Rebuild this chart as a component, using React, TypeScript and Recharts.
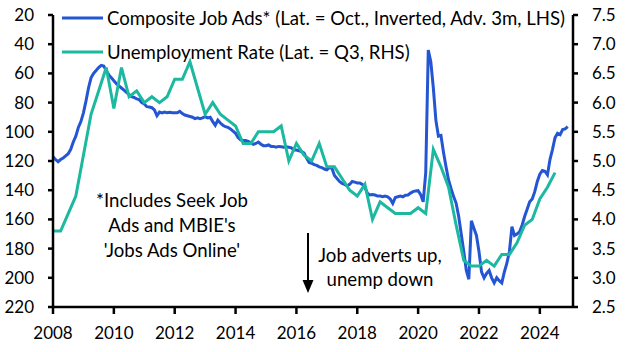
import { ComposedChart, Line, XAxis, YAxis } from 'recharts';

const START_YEAR = 2008;
const YEAR_TICKS = [2008, 2010, 2012, 2014, 2016, 2018, 2020, 2022, 2024];
const LEFT_TICKS = [20, 40, 60, 80, 100, 120, 140, 160, 180, 200, 220];
const RIGHT_TICKS = [2.5, 3, 3.5, 4, 4.5, 5, 5.5, 6, 6.5, 7, 7.5];

// Composite job ads index, monthly from Jan 2008 (advanced 3m, plotted inverted on LHS)
const jobAds = [
  117, 119, 120.5, 119, 118, 116.5, 115, 112, 107, 103, 97, 93, // 2008
  87, 79, 70, 63, 60, 58, 56, 54.5, 55, 58, 61, 63, // 2009
  65, 67, 68.5, 70, 71.5, 73, 74.5, 76, 76.5, 77.5, 78, 80, // 2010
  81, 82.8, 83, 83.5, 85, 89, 86.5, 87, 86.5, 87, 86.7, 87, // 2011
  87, 87, 86, 87.5, 88.5, 89, 89.5, 90, 91, 90.5, 91, 90.5, // 2012
  89.6, 90.5, 90, 93, 95.5, 92, 94, 95.5, 96.5, 97, 98, 99.5, // 2013
  101, 104, 105.6, 106, 106, 106.5, 107.5, 108.6, 108, 107, 108.5, 109.5, // 2014
  109.5, 109, 110, 110, 110.5, 110, 110.2, 110.5, 110.3, 110.6, 111, 112.5, // 2015
  112.5, 113, 113.5, 114.5, 118, 121, 121.5, 122.5, 123, 124, 124.5, 125.5, // 2016
  126, 124.5, 125, 130, 132, 134, 135.3, 136, 137, 136, 134, 134.5, // 2017
  135, 135, 136, 138, 142, 143.3, 143, 143.3, 144, 144, 144.5, 144, // 2018
  144.5, 146, 149, 145, 144.5, 144, 144.5, 143.5, 143.3, 142, 141, 140.5, // 2019
  140.3, 143, 148, 128, 44, 52, 70, 92, 103, 102.5, 114, 124, // 2020
  133, 139, 144.4, 149, 158, 170, 182, 195, 201, 161, 166, 171, // 2021
  182, 196, 200, 197, 195, 200, 203.5, 200, 202, 203.5, 196, 190, // 2022
  182, 165, 171, 170, 168.5, 164, 158, 153, 148, 146, 141, 134, // 2023
  129, 126.5, 127, 129.5, 119, 112, 104, 101, 102, 98.5, 98, 96.5, // 2024
];

// Unemployment rate (%), quarterly from 2008 Q1 to 2024 Q3 (RHS)
const unemployment = [
  3.8, 3.8, 4.1, 4.4, // 2008
  5.1, 5.8, 6.2, 6.6, // 2009
  5.9, 6.6, 6.1, 6.2, // 2010
  6.0, 6.1, 6.0, 6.1, // 2011
  6.4, 6.4, 6.7, 6.25, // 2012
  5.8, 6.0, 5.8, 5.7, // 2013
  5.6, 5.3, 5.3, 5.5, // 2014
  5.5, 5.5, 5.6, 5.0, // 2015
  5.3, 5.1, 5.0, 5.3, // 2016
  4.9, 4.9, 4.7, 4.5, // 2017
  4.4, 4.6, 4.0, 4.3, // 2018
  4.2, 4.1, 4.1, 4.1, // 2019
  4.2, 4.1, 5.2, 4.9, // 2020
  4.55, 3.9, 3.3, 3.2, // 2021
  3.2, 3.3, 3.2, 3.4, // 2022
  3.4, 3.6, 3.9, 4.0, // 2023
  4.35, 4.55, 4.8, // 2024
];

const BLUE = '#2456d3';
const TEAL = '#1cb89f';
const FONT = 'Lato, "Open Sans", sans-serif';

const data = jobAds.map((v, i) => ({
  t: START_YEAR + i / 12,
  jobAds: v,
  unemp: i % 3 === 0 && i / 3 < unemployment.length ? unemployment[i / 3] : null,
}));

const axisLine = { stroke: '#000', strokeWidth: 2.5 };
const tickStyle = { fill: '#000', fontSize: 17, fontFamily: FONT };

const Overlay = () => (
  <svg
    width={628}
    height={352}
    style={{ position: 'absolute', left: 0, top: 0, pointerEvents: 'none' }}
    fontFamily={FONT}
    fontSize={18.6}
  >
    <line x1={62} y1={18} x2={103} y2={18} stroke={BLUE} strokeWidth={3} />
    <text x={107} y={18} dy="0.35em" fill="#000">
      Composite Job Ads* (Lat. = Oct., Inverted, Adv. 3m, LHS)
    </text>
    <line x1={62} y1={52} x2={103} y2={52} stroke={TEAL} strokeWidth={3} />
    <text x={107} y={52} dy="0.35em" fill="#000">
      Unemployment Rate (Lat. = Q3, RHS)
    </text>

    <g textAnchor="middle" fill="#000">
      <text x={172} y={200} dy="0.35em">*Includes Seek Job</text>
      <text x={172} y={225} dy="0.35em">Ads and MBIE's</text>
      <text x={172} y={250} dy="0.35em">'Jobs Ads Online'</text>
      <text x={380} y={255} dy="0.35em">Job adverts up,</text>
      <text x={380} y={279} dy="0.35em">unemp down</text>
    </g>
    <line x1={308} y1={233} x2={308} y2={283} stroke="#000" strokeWidth={2} />
    <polygon points="302.5,280 313.5,280 308,293" fill="#000" />
  </svg>
);

export default function App() {
  return (
    <div
      style={{
        position: 'absolute',
        left: 0,
        top: 0,
        width: 628,
        height: 352,
        background: '#fff',
        fontFamily: FONT,
      }}
    >
      <ComposedChart
        width={628}
        height={352}
        data={data}
        margin={{ top: 15, right: 0, bottom: 0, left: 0 }}
      >
        <XAxis
          dataKey="t"
          type="number"
          domain={[2008, 2025.09]}
          ticks={YEAR_TICKS}
          allowDataOverflow
          height={45}
          axisLine={axisLine}
          tickLine={axisLine}
          tickSize={7}
          tickMargin={13}
          tick={tickStyle}
        />
        <YAxis
          yAxisId="l"
          domain={[20, 220]}
          reversed
          ticks={LEFT_TICKS}
          width={53}
          axisLine={axisLine}
          tickLine={axisLine}
          tickSize={5}
          tickMargin={14}
          tick={tickStyle}
        />
        <YAxis
          yAxisId="r"
          orientation="right"
          domain={[2.5, 7.5]}
          ticks={RIGHT_TICKS}
          tickFormatter={(v: number) => v.toFixed(1)}
          width={55}
          axisLine={axisLine}
          tickLine={axisLine}
          tickSize={5}
          tickMargin={14}
          tick={tickStyle}
        />
        <Line
          yAxisId="l"
          dataKey="jobAds"
          type="linear"
          stroke={BLUE}
          strokeWidth={3}
          dot={false}
          isAnimationActive={false}
        />
        <Line
          yAxisId="r"
          dataKey="unemp"
          type="linear"
          stroke={TEAL}
          strokeWidth={3}
          dot={false}
          connectNulls
          isAnimationActive={false}
        />
      </ComposedChart>
      <Overlay />
    </div>
  );
}
